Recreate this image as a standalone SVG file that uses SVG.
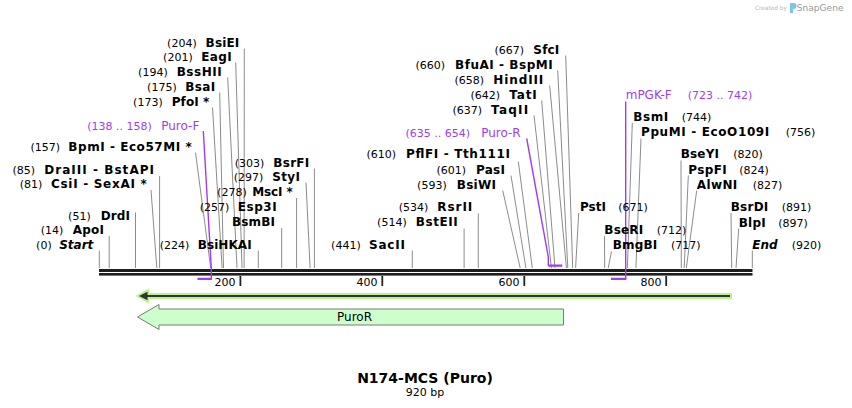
<svg xmlns="http://www.w3.org/2000/svg" width="852" height="408" viewBox="0 0 852 408">
<style>
text{font-family:"DejaVu Sans",Verdana,sans-serif}
.num{font-size:11px;fill:#000}
.nm{font-size:12px;font-weight:bold;fill:#000}
.it{font-style:italic}
.pn{font-size:11px;fill:#a03cf0}
.pl{font-size:12px;fill:#a03cf0}
.e{text-anchor:end}
.ld{stroke:#8c8c8c;stroke-width:1;fill:none}
.pc{stroke:#a03cf0;stroke-width:1.4;fill:none}
.ps{stroke:#a03cf0;stroke-width:2.3;fill:none}
.tk{stroke:#222;stroke-width:1.8}
.tl{font-size:11px;fill:#000;text-anchor:end}
</style>
<rect width="852" height="408" fill="#fff"/>

<g id="watermark">
<text x="755" y="9.5" style="font-size:5.8px;fill:#b8b8b8">Created by</text>
<path d="M790 3 h3.5 a3 3 0 0 1 0 6 h-0.5 v4 h-3 z" fill="#7cc4ec"/>
<text x="796.7" y="10.5" style="font-size:9.1px;fill:#9a9a9a">SnapGene</text>
</g>

<g id="backbone">
<rect x="99" y="269" width="653.5" height="3" fill="#1e1e1e"/>
<rect x="99" y="273" width="653.5" height="2.6" fill="#1e1e1e"/>
<line class="tk" x1="240.4" y1="276" x2="240.4" y2="286"/>
<line class="tk" x1="382.3" y1="276" x2="382.3" y2="286"/>
<line class="tk" x1="524.3" y1="276" x2="524.3" y2="286"/>
<line class="tk" x1="666.2" y1="276" x2="666.2" y2="286"/>
<text class="tl" x="235.5" y="286">200</text>
<text class="tl" x="377.5" y="286">400</text>
<text class="tl" x="519.5" y="286">600</text>
<text class="tl" x="661.5" y="286">800</text>
</g>

<g id="connectors">
<path class="ld" d="M244.3 48.5L244.1 268M235.7 62.5L242 268M227.7 77.5L237 268M219.7 92.5L223.5 268M212.5 107.5L222.1 268M195.5 152.5L210.7 268M159.6 176L159.6 268M151 190L156.8 268M135.5 212.5L135.5 268M109.2 236L109.2 268M99.3 250.5L99.3 268M258.3 250.5L258.3 268M314.4 168.5L314.4 268M306 182.5L310.1 268M296.6 198L296.6 268M281.7 228L281.7 268M412.3 250.5L412.3 268M464.1 228.5L464.1 268M478.3 213.5L478.3 268M502.7 190.5L520.2 268M511 175.5L525.9 268M518.3 161.5L532.3 268M534 115.5L551.4 268M541.7 100.5L555 268M549.7 85.5L566.4 268M557.7 70.5L567.8 268M565.7 55.5L572.7 268"/>
<path class="ld" d="M578.7 213L575.6 268M604.5 236L604.7 268M611.5 251.5L608.2 268M632.3 123L627.4 268M641 138.5L635.9 268M681 160.5L681.3 268M688.3 175.5L684.2 268M696.7 190.5L686.3 268M731 213L731.7 268M738.7 228.5L736 268M752.3 250.5L752.3 268"/>
<path class="pc" d="M203.3 131L211.3 268L211.3 279.5M526.7 138.5L548.3 257L548.3 265.7M625.7 101.5L625.7 279.5"/>
</g>

<g id="primers">
<path class="ps" d="M197.5 278.8H211.8M548.3 265.7H562.3M611 278.8H626.2"/>
</g>

<g id="orf">
<line x1="141" y1="296" x2="732" y2="296" stroke="#b9f290" stroke-width="6"/>
<polygon points="135.5,296 149,288.5 149,303.5" fill="#b9f290"/>
<line x1="145" y1="296" x2="730" y2="296" stroke="#333" stroke-width="2"/>
<polygon points="139,296 147.5,291.8 147.5,300.2" fill="#333"/>
</g>

<g id="PuroR">
<polygon points="137.5,317 159,304.5 159,309 563.5,309 563.5,325 159,325 159,329.5" fill="#ccffcc" stroke="#7a7a7a" stroke-width="1"/>
<text x="354.5" y="320.5" style="font-size:12px;fill:#000;text-anchor:middle">PuroR</text>
</g>

<g xml:space="preserve">
<g id="BsiEI"><text class="num e" x="196.7" y="46.5">(204)</text><text class="nm e" x="239.3" y="46.5" textLength="33.7">BsiEI</text></g>
<g id="EagI"><text class="num e" x="192.7" y="61">(201)</text><text class="nm e" x="231.7" y="61" textLength="30.4">EagI</text></g>
<g id="BssHII"><text class="num e" x="167.7" y="76">(194)</text><text class="nm e" x="221.7" y="76" textLength="45">BssHII</text></g>
<g id="BsaI"><text class="num e" x="176.7" y="91">(175)</text><text class="nm e" x="215.3" y="91" textLength="30">BsaI</text></g>
<g id="PfoI"><text class="num e" x="162.7" y="106">(173)</text><text class="nm e" x="209.3" y="106" textLength="37.6">PfoI *</text></g>
<g id="Puro-F"><text class="pn e" x="151.7" y="130">(138 .. 158)</text><text class="pl e" x="199.3" y="130">Puro-F</text></g>
<g id="BpmI"><text class="num e" x="60" y="151">(157)</text><text class="nm e" x="191.7" y="151" textLength="123.4">BpmI  - Eco57MI *</text></g>
<g id="DraIII"><text class="num e" x="35" y="174.3">(85)</text><text class="nm e" x="154" y="174.3" textLength="109.7">DraIII  - BstAPI</text></g>
<g id="CsiI"><text class="num e" x="42.3" y="188.3">(81)</text><text class="nm e" x="146.7" y="188.3" textLength="95.7">CsiI  - SexAI *</text></g>
<g id="DrdI"><text class="num e" x="90.7" y="220.3">(51)</text><text class="nm e" x="130" y="220.3" textLength="29.3">DrdI</text></g>
<g id="ApoI"><text class="num e" x="63.3" y="234.3">(14)</text><text class="nm e" x="104" y="234.3" textLength="31.3">ApoI</text></g>
<g id="Start"><text class="num e" x="51.7" y="249.3">(0)</text><text class="nm it e" x="93.3" y="249.3">Start</text></g>
<g id="BsiHKAI"><text class="num e" x="189.3" y="249.3">(224)</text><text class="nm e" x="251.7" y="249.3" textLength="54">BsiHKAI</text></g>
<g id="BsrFI"><text class="num e" x="264.3" y="167">(303)</text><text class="nm e" x="309.3" y="167" textLength="36">BsrFI</text></g>
<g id="StyI"><text class="num e" x="263.3" y="181">(297)</text><text class="nm e" x="300" y="181" textLength="27.7">StyI</text></g>
<g id="MscI"><text class="num e" x="246.7" y="196">(278)</text><text class="nm e" x="292.7" y="196" textLength="40.4">MscI *</text></g>
<g id="Esp3I"><text class="num e" x="229.3" y="211.3">(257)</text><text class="nm e" x="276.7" y="211.3" textLength="39">Esp3I</text><text class="nm e" x="275" y="226" textLength="43">BsmBI</text></g>
<g id="SacII"><text class="num e" x="360.7" y="249.3">(441)</text><text class="nm e" x="405" y="249.3" textLength="36">SacII</text></g>
<g id="BstEII"><text class="num e" x="406.7" y="226">(514)</text><text class="nm e" x="457.7" y="226" textLength="42">BstEII</text></g>
<g id="RsrII"><text class="num e" x="428.3" y="211">(534)</text><text class="nm e" x="472.3" y="211" textLength="35">RsrII</text></g>
<g id="BsiWI"><text class="num e" x="446.7" y="188.7">(593)</text><text class="nm e" x="496" y="188.7" textLength="39.3">BsiWI</text></g>
<g id="PasI"><text class="num e" x="466" y="174.3">(601)</text><text class="nm e" x="505" y="174.3" textLength="29">PasI</text></g>
<g id="PflFI"><text class="num e" x="396" y="158.3">(610)</text><text class="nm e" x="510" y="158.3" textLength="104">PflFI  - Tth111I</text></g>
<g id="Puro-R"><text class="pn e" x="470" y="136.7">(635 .. 654)</text><text class="pl e" x="520.7" y="136.7">Puro-R</text></g>
<g id="TaqII"><text class="num e" x="482" y="113.7">(637)</text><text class="nm e" x="528.3" y="113.7" textLength="37.3">TaqII</text></g>
<g id="TatI"><text class="num e" x="500" y="99.3">(642)</text><text class="nm e" x="536.7" y="99.3" textLength="27.4">TatI</text></g>
<g id="HindIII"><text class="num e" x="484" y="83.7">(658)</text><text class="nm e" x="543.3" y="83.7" textLength="50">HindIII</text></g>
<g id="BfuAI"><text class="num e" x="445" y="69.3">(660)</text><text class="nm e" x="552.7" y="69.3" textLength="97.7">BfuAI  - BspMI</text></g>
<g id="SfcI"><text class="num e" x="524" y="54.3">(667)</text><text class="nm e" x="559.3" y="54.3" textLength="26">SfcI</text></g>

<g id="mPGK-F"><text class="pl" x="625.7" y="99.3">mPGK-F</text><text class="pn" x="687.7" y="99.3">(723 .. 742)</text></g>
<g id="BsmI"><text class="nm" x="633.3" y="121" textLength="35">BsmI</text><text class="num" x="681.7" y="121">(744)</text></g>
<g id="PpuMI"><text class="nm" x="641" y="136" textLength="128.3">PpuMI  - EcoO109I</text><text class="num" x="785.7" y="136">(756)</text></g>
<g id="BseYI"><text class="nm" x="680.7" y="158.3" textLength="38.3">BseYI</text><text class="num" x="733.3" y="158.3">(820)</text></g>
<g id="PspFI"><text class="nm" x="688.3" y="173.7" textLength="38.4">PspFI</text><text class="num" x="739.3" y="173.7">(824)</text></g>
<g id="AlwNI"><text class="nm" x="696.7" y="188.7" textLength="40.6">AlwNI</text><text class="num" x="752.7" y="188.7">(827)</text></g>
<g id="PstI"><text class="nm" x="580" y="211" textLength="26">PstI</text><text class="num" x="618.3" y="211">(671)</text></g>
<g id="BsrDI"><text class="nm" x="730.7" y="211" textLength="37.6">BsrDI</text><text class="num" x="781.7" y="211">(891)</text></g>
<g id="BlpI"><text class="nm" x="738.7" y="226.7" textLength="27">BlpI</text><text class="num" x="778.3" y="226.7">(897)</text></g>
<g id="BseRI"><text class="nm" x="604.3" y="233.7" textLength="39">BseRI</text><text class="num" x="656.7" y="233.7">(712)</text></g>
<g id="BmgBI"><text class="nm" x="612.7" y="249.3" textLength="44.6">BmgBI</text><text class="num" x="671" y="249.3">(717)</text></g>
<g id="End"><text class="nm it" x="752.3" y="249.3">End</text><text class="num" x="791.7" y="249.3">(920)</text></g>
</g>

<g id="title">
<text x="425" y="383" style="font-size:14px;font-weight:bold;fill:#000;text-anchor:middle">N174-MCS (Puro)</text>
<text x="425" y="396" style="font-size:11px;fill:#000;text-anchor:middle">920 bp</text>
</g>
</svg>
